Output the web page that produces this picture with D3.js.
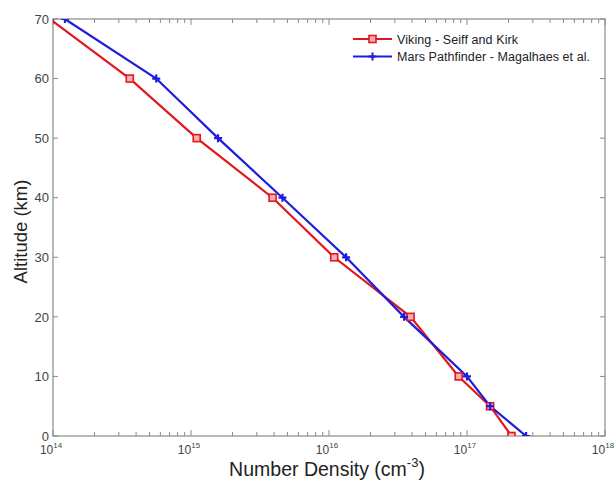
<!DOCTYPE html>
<meta charset="utf-8">
<script src="https://d3js.org/d3.v7.min.js"></script>
<style>
  body { margin: 0; background: #fff; }
  text { font-family: "Liberation Sans", Arial, sans-serif; }
</style>
<body>
<div id="chart"></div>
<script>
    // altitude in km, density in cm^-3
    var altitudes = [70, 60, 50, 40, 30, 20, 10, 5, 0];
    var vikingDensity = [9.5e13, 3.6e14, 1.1e15, 3.9e15, 1.09e16, 3.9e16, 8.7e16, 1.47e17, 2.1e17];
    var pathfinderDensity = [1.22e14, 5.6e14, 1.57e15, 4.6e15, 1.33e16, 3.5e16, 1.0e17, 1.47e17, 2.68e17];
    var seriesNames = ["Viking - Seiff and Kirk", "Mars Pathfinder - Magalhaes et al."];
    var yTicks = [0, 10, 20, 30, 40, 50, 60, 70];
    var xExponents = [14, 15, 16, 17, 18];

    var W = 616, H = 485;
    var margin = { top: 19, right: 11, bottom: 49, left: 53 },
        width = W - margin.left - margin.right,
        height = H - margin.top - margin.bottom;

    var svg = d3.select("#chart").append("svg")
        .attr("width", W).attr("height", H);
    var g = svg.append("g")
        .attr("transform", "translate(" + margin.left + "," + margin.top + ")");

    var x = d3.scaleLog().domain([1e14, 1e18]).range([0, width]);
    var y = d3.scaleLinear().domain([0, 70]).range([height, 0]);

    var axisColor = "#8a8a8a", labelColor = "#444";

    g.append("clipPath").attr("id", "clip")
        .append("rect").attr("width", width).attr("height", height);

    // minor + major ticks on log axis
    var minor = [];
    for (var e = 14; e < 18; e++)
        for (var m = 2; m <= 9; m++) minor.push(m * Math.pow(10, e));

    function xTicks(sel, y0, dir) {
        sel.selectAll(null).data(minor).enter().append("line")
            .attr("x1", d => x(d)).attr("x2", d => x(d))
            .attr("y1", y0).attr("y2", y0 + dir * 4)
            .attr("stroke", axisColor);
        sel.selectAll(null).data(xExponents).enter().append("line")
            .attr("x1", d => x(Math.pow(10, d))).attr("x2", d => x(Math.pow(10, d)))
            .attr("y1", y0).attr("y2", y0 + dir * 6)
            .attr("stroke", axisColor);
    }
    var ticksG = g.append("g");
    xTicks(ticksG, height, -1);
    xTicks(ticksG, 0, 1);

    ticksG.selectAll(null).data(yTicks).enter().append("line")
        .attr("x1", 0).attr("x2", 5).attr("y1", d => y(d)).attr("y2", d => y(d))
        .attr("stroke", axisColor);
    ticksG.selectAll(null).data(yTicks).enter().append("line")
        .attr("x1", width).attr("x2", width - 5).attr("y1", d => y(d)).attr("y2", d => y(d))
        .attr("stroke", axisColor);

    // box
    g.append("rect").attr("width", width).attr("height", height)
        .attr("fill", "none").attr("stroke", axisColor).attr("stroke-width", 1.2);

    // tick labels
    g.selectAll(null).data(yTicks).enter().append("text")
        .attr("x", -4).attr("y", d => y(d)).attr("dy", "0.36em")
        .attr("text-anchor", "end").attr("font-size", 13).attr("fill", labelColor)
        .text(d => d);

    var xl = g.selectAll(null).data(xExponents).enter().append("text")
        .attr("x", d => x(Math.pow(10, d)) - 2).attr("y", height + 18)
        .attr("text-anchor", "middle").attr("font-size", 12).attr("fill", labelColor);
    xl.append("tspan").text("10");
    xl.append("tspan").attr("dy", -6).attr("font-size", 8).text(d => d);

    // axis titles
    var xt = svg.append("text")
        .attr("x", margin.left + width / 2 - 2).attr("y", H - 9)
        .attr("text-anchor", "middle").attr("font-size", 19.5).attr("fill", "#222");
    xt.append("tspan").text("Number Density (cm");
    xt.append("tspan").attr("dy", -9).attr("font-size", 13).text("-3");
    xt.append("tspan").attr("dy", 9).text(")");

    svg.append("text")
        .attr("transform", "translate(27," + (margin.top + height / 2 + 4) + ") rotate(-90)")
        .attr("text-anchor", "middle").attr("font-size", 18.5).attr("fill", "#222")
        .text("Altitude (km)");

    // series
    var red = "#e3171d", blue = "#1d1ddb";
    var viking = altitudes.map((a, i) => ({ alt: a, n: vikingDensity[i] }));
    var pathfinder = altitudes.map((a, i) => ({ alt: a, n: pathfinderDensity[i] }));

    var line = d3.line().x(d => x(d.n)).y(d => y(d.alt));
    var plot = g.append("g").attr("clip-path", "url(#clip)");

    plot.append("path").attr("d", line(viking))
        .attr("fill", "none").attr("stroke", red).attr("stroke-width", 2.2);
    plot.append("path").attr("d", line(pathfinder))
        .attr("fill", "none").attr("stroke", blue).attr("stroke-width", 2.2);

    plot.selectAll(null).data(viking).enter().append("rect")
        .attr("x", d => x(d.n) - 3.5).attr("y", d => y(d.alt) - 3.5)
        .attr("width", 7).attr("height", 7)
        .attr("fill", "#f6b0b0").attr("stroke", red).attr("stroke-width", 1.6);

    var plus = "M-4,0H4M0,-4V4";
    plot.selectAll(null).data(pathfinder).enter().append("path")
        .attr("d", plus).attr("transform", d => "translate(" + x(d.n) + "," + y(d.alt) + ")")
        .attr("stroke", blue).attr("stroke-width", 2.2).attr("fill", "none");

    // legend
    var lg = svg.append("g").attr("transform", "translate(353,39)");
    var legendItems = [{ name: seriesNames[0], c: red, m: "sq", w: 121 },
                       { name: seriesNames[1], c: blue, m: "plus", w: 193 }];
    legendItems.forEach(function (d, i) {
        var row = lg.append("g").attr("transform", "translate(0," + i * 17.5 + ")");
        row.append("line").attr("x1", 0).attr("x2", 39).attr("stroke", d.c).attr("stroke-width", 2.2);
        if (d.m === "sq")
            row.append("rect").attr("x", 16).attr("y", -3.5).attr("width", 7).attr("height", 7)
                .attr("fill", "#f6b0b0").attr("stroke", d.c).attr("stroke-width", 1.6);
        else
            row.append("path").attr("d", plus).attr("transform", "translate(19.5,0)")
                .attr("stroke", d.c).attr("stroke-width", 2);
        row.append("text").attr("x", 44).attr("dy", "0.36em")
            .attr("font-size", 12.5).attr("fill", "#222")
            .attr("textLength", d.w).attr("lengthAdjust", "spacing")
            .text(d.name);
    });
</script>
</body>
